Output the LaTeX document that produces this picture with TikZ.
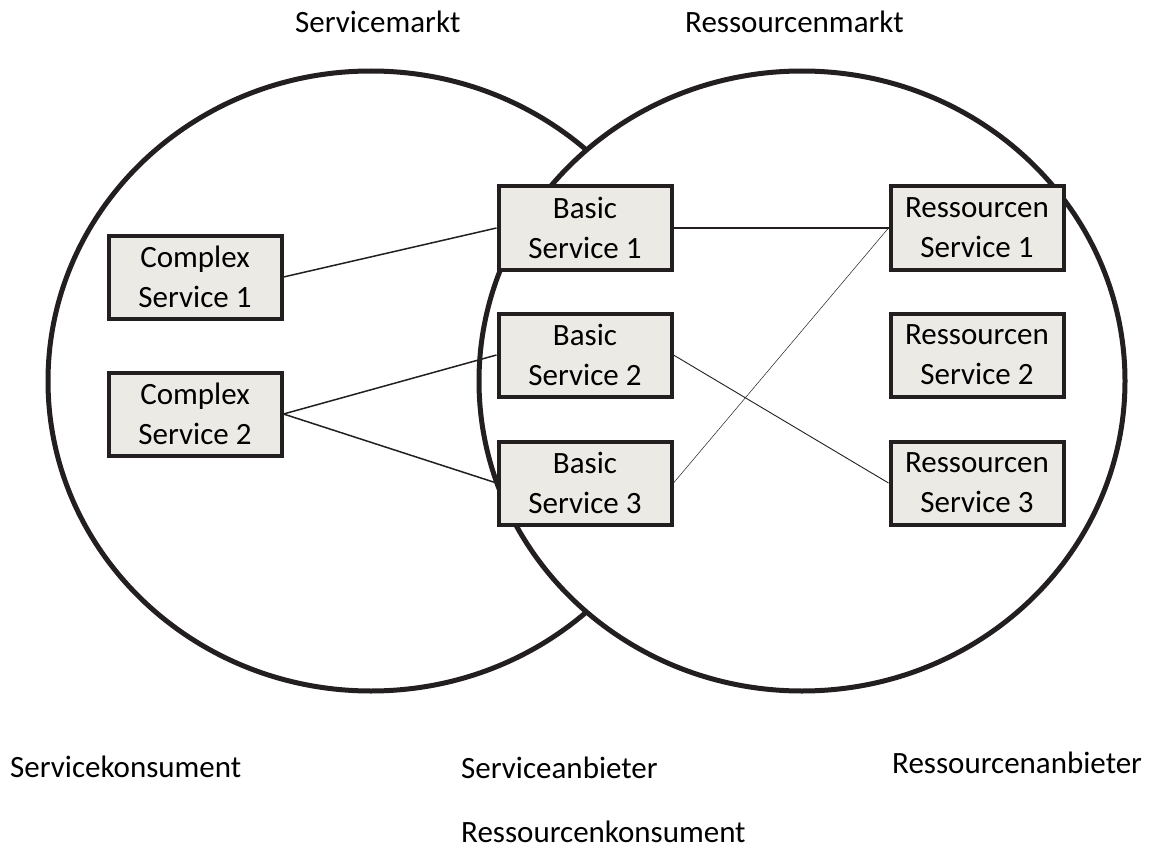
\documentclass[tikz,border=0pt]{standalone}
\usepackage{fontspec}
\setmainfont{Carlito}
\definecolor{boxfill}{RGB}{235,234,228}
\definecolor{ink}{RGB}{35,31,32}

\begin{document}
\begin{tikzpicture}[x=1pt,y=-1pt,
	service/.style={draw=ink,line width=4pt,fill=boxfill,minimum width=173pt,minimum height=83pt,inner sep=0pt,align=center,font=\fontsize{31}{40}\selectfont},
	beschriftung/.style={anchor=base west,inner sep=0pt,font=\fontsize{31}{37}\selectfont}]
\useasboundingbox (0,0) rectangle (1152,848);

% die beiden Maerkte
\draw [ink,line width=5pt] (371,381) ellipse [x radius=323, y radius=310];
\draw [ink,line width=5pt,fill=white] (802,381) ellipse [x radius=323, y radius=310];

\foreach \n/\y in {1/277, 2/414}
	{
	\node[service] (complex\n) at (195,\y) {Complex\\Service \n};
	}
\foreach \n/\y in {1/228, 2/355, 3/483}
	{
	\node[service] (basic\n) at (585,\y) {Basic\\Service \n};
	\node[service] (res\n) at (977,\y) {Ressourcen\\Service \n};
	}

\draw [ink,line width=1.5pt] (complex1.east) -- (basic1.west);
\draw [ink,line width=1.5pt] (complex2.east) -- (basic2.west);
\draw [ink,line width=1.5pt] (complex2.east) -- (basic3.west);
\draw [ink,line width=1.2pt] (basic1.east) -- (res1.west);
\draw [ink,line width=0.9pt] (basic2.east) -- (res3.west);
\draw [ink,line width=0.5pt] (basic3.east) -- (res1.west);

\node[beschriftung] (servicemarkt) at (295,33) {Servicemarkt};
\node[beschriftung] (ressourcenmarkt) at (685,33) {Ressourcenmarkt};
\node[beschriftung] (servicekonsument) at (10,777) {Servicekonsument};
\node[beschriftung] (serviceanbieter) at (461,778) {Serviceanbieter};
\node[beschriftung] (ressourcenanbieter) at (892,773) {Ressourcenanbieter};
\node[beschriftung] (ressourcenkonsument) at (461,842) {Ressourcenkonsument};
\end{tikzpicture}
\end{document}
